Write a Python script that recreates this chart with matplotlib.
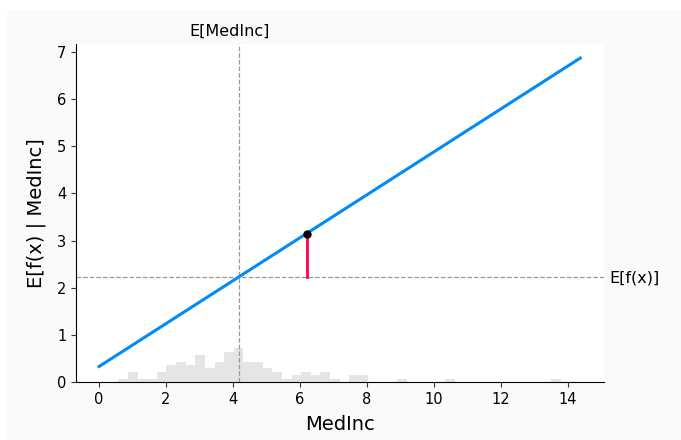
import numpy as np
import matplotlib
matplotlib.use("Agg")
import matplotlib.pyplot as plt
from matplotlib.patches import Rectangle

# --- data ---
feature = "MedInc"
line_x = [0.0, 14.37]
line_y = [0.32, 6.88]
x_expected = 4.18          # E[MedInc]
y_expected = 2.23          # E[f(x)]
sample_x = 6.22
sample_y = 3.14
hist_range = (0.0, 14.37)
hist_counts = [0, 0, 1, 3, 1, 1, 3, 5, 6, 5,
               8, 4, 6, 9, 10, 6, 6, 4, 3, 1,
               2, 3, 2, 3, 1, 0, 2, 2, 0, 0,
               0, 1, 0, 0, 0, 0, 1, 0, 0, 0,
               0, 0, 0, 0, 0, 0, 0, 1, 0, 0]
n_samples = sum(hist_counts)

blue = "#008bfb"
red = "#ff0052"

fig = plt.figure(figsize=(6.81, 4.4), dpi=100)
fig.patch.set_facecolor("white")
fig.patches.append(Rectangle((7 / 681, 0), 1, 1 - 10 / 440, transform=fig.transFigure,
                             facecolor="#fafafa", edgecolor="none", zorder=-10))

ax = fig.add_axes([76 / 681, 58 / 440, 527.6 / 681, 338 / 440])

# histogram on a twin axis, scaled to the sample count
ax2 = ax.twinx()
edges = np.linspace(hist_range[0], hist_range[1], len(hist_counts) + 1)
ax2.stairs(hist_counts, edges, fill=True, color="black", alpha=0.1, linewidth=0)
ax2.set_ylim(0, n_samples)
ax2.set_yticks([])
for s in ax2.spines.values():
    s.set_visible(False)

ax.plot(line_x, line_y, color=blue, lw=2.2, zorder=3)
ax.axvline(x_expected, color="#999999", lw=0.9, ls="--", zorder=1)
ax.axhline(y_expected, color="#999999", lw=0.9, ls="--", zorder=1)
ax.plot([sample_x, sample_x], [y_expected, sample_y], color=red, lw=2, zorder=4)
ax.plot(sample_x, sample_y, "o", color="black", ms=5, zorder=5)

ax.set_xlim(-0.69, 15.07)
ax.set_ylim(-0.01, 7.18)
ax.set_xticks(range(0, 15, 2))
ax.set_yticks(range(0, 8))
ax.tick_params(labelsize=10.5, colors="#333333", labelcolor="black")
ax.set_xlabel(feature, fontsize=14, labelpad=6)
ax.set_ylabel("E[f(x) | " + feature + "]", fontsize=14, labelpad=8)
ax.spines["top"].set_visible(False)
ax.spines["right"].set_visible(False)
ax.set_zorder(ax2.get_zorder() + 1)
ax.patch.set_visible(False)
fig.patches.append(Rectangle((76 / 681, 58 / 440), 527.6 / 681, 338 / 440,
                             transform=fig.transFigure, facecolor="white",
                             edgecolor="none", zorder=-5))

# expected value labels
ax3 = ax.twiny()
ax3.set_xlim(hist_range)
ax3.set_xticks([x_expected])
ax3.set_xticklabels(["E[" + feature + "]"], fontsize=11.5)
ax3.tick_params(length=0, pad=4)
for s in ax3.spines.values():
    s.set_visible(False)

ax4 = ax.twinx()
ax4.set_ylim(ax.get_ylim())
ax4.set_yticks([y_expected])
ax4.set_yticklabels(["E[f(x)]"], fontsize=11.5)
ax4.tick_params(length=0, pad=4)
for s in ax4.spines.values():
    s.set_visible(False)

fig.savefig("out.png", dpi=100)
